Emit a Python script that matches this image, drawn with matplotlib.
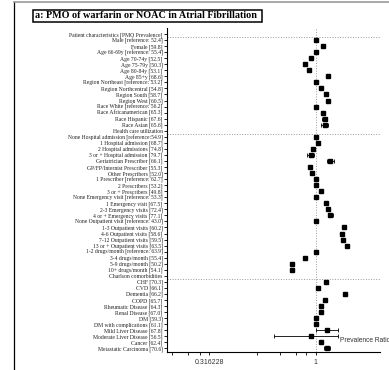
import numpy as np
import matplotlib.pyplot as plt
from matplotlib.lines import Line2D
from matplotlib.patches import Rectangle

labels = [
    "Patient characteristics [PMO Prevalence]",
    "Male [reference: 52.4]",
    "Female [59.8]",
    "Age 66-69y [reference: 55.4]",
    "Age 70-74y [52.5]",
    "Age 75-79y [50.3]",
    "Age 80-84y [53.1]",
    "Age 85+y [68.6]",
    "Region Northeast [reference: 53.2]",
    "Region Northcentral [54.8]",
    "Region South [58.7]",
    "Region West [60.5]",
    "Race White [reference: 56.2]",
    "Race Africanamerican [65.3]",
    "Race Hispanic [67.6]",
    "Race Asian [65.6]",
    "Health care utilization",
    "None Hospital admission [reference:54.9]",
    "1 Hospital admission [68.7]",
    "2 Hospital admissions [74.8]",
    "3 or + Hospital admission [79.7]",
    "Geriatrician Prescriber [66.1]",
    "GP/FP/Internist Prescriber [55.3]",
    "Other Prescribers [52.0]",
    "1 Prescriber [reference: 62.7]",
    "2 Prescribers [53.2]",
    "3 or + Prescribers [49.8]",
    "None Emergency visit [reference: 53.3]",
    "1 Emergency visit [67.5]",
    "2-3 Emergency visits [72.4]",
    "4 or + Emergency visits [77.1]",
    "None Outpatient visit [reference: 43.0]",
    "1-3 Outpatient visits [60.2]",
    "4-6 Outpatient visits [58.6]",
    "7-12 Outpatient visits [59.5]",
    "13 or + Outpatient visits [63.5]",
    "1-2 drugs/month [reference: 63.9]",
    "3-4 drugs/month [55.4]",
    "5-9 drugs/month [50.2]",
    "10+ drugs/month [54.1]",
    "Charlson comorbidities",
    "CHF [70.3]",
    "CVD [66.1]",
    "Dementia [66.2]",
    "COPD [65.7]",
    "Rheumatic Disease [64.3]",
    "Renal Disease [67.0]",
    "DM [59.3]",
    "DM with complications [61.1]",
    "Mild Liver Disease [67.8]",
    "Moderate Liver Disease [56.5]",
    "Cancer [62.4]",
    "Metastatic Carcinoma [70.6]",
]

nan = np.nan
ratio = [nan, 1.0, 1.08, 1.0, 0.947, 0.89, 0.925, 1.135, 1.0, 1.055, 1.11, 1.14,
         1.0, 1.075, 1.10, 1.10, nan, 1.0, 1.02, 0.97, 0.945, 1.17, 0.937, 0.957,
         1.0, 1.003, 1.055, 1.0, 1.11, 1.135, 1.17, 1.0, 1.35, 1.32, 1.34, 1.40,
         1.0, 0.887, 0.773, 0.776, nan, 1.12, 1.02, 1.37, 1.10, 1.055, 1.055,
         1.0, 1.0, 1.125, 0.95, 1.055, 1.125]
ci_low = [nan, 1.0, 1.07, 1.0, 0.94, 0.88, 0.915, 1.125, 1.0, 1.045, 1.10, 1.13,
          1.0, 1.06, 1.07, 1.06, nan, 1.0, 1.01, 0.96, 0.91, 1.13, 0.93, 0.95,
          1.0, 0.995, 1.045, 1.0, 1.10, 1.125, 1.14, 1.0, 1.34, 1.31, 1.33, 1.39,
          1.0, 0.88, 0.765, 0.76, nan, 1.11, 1.01, 1.36, 1.09, 1.045, 1.045,
          0.99, 0.99, 1.0, 0.634, 1.045, 1.09]
ci_high = [nan, 1.0, 1.09, 1.0, 0.955, 0.90, 0.935, 1.145, 1.0, 1.065, 1.12, 1.15,
           1.0, 1.09, 1.13, 1.14, nan, 1.0, 1.03, 0.98, 0.98, 1.21, 0.945, 0.965,
           1.0, 1.01, 1.065, 1.0, 1.12, 1.145, 1.20, 1.0, 1.36, 1.33, 1.35, 1.41,
           1.0, 0.895, 0.78, 0.79, nan, 1.13, 1.03, 1.38, 1.11, 1.065, 1.065,
           1.01, 1.01, 1.27, 1.27, 1.065, 1.16]
headers = [0, 16, 40]

W, H = 389, 370
fig = plt.figure(figsize=(W / 100, H / 100), dpi=100)

# outer frame and title box (pixel coords)
fig.add_artist(Line2D([14 / W, 14 / W], [0, 1 - 2 / H], color="black", lw=0.9))
fig.add_artist(Line2D([14 / W, 1], [1 - 2 / H, 1 - 2 / H], color="#999999", lw=1.2))
fig.add_artist(Rectangle((33 / W, 1 - 22 / H), 229 / W, 12 / H, transform=fig.transFigure,
                         fill=False, edgecolor="black", lw=1.1))
fig.text(35 / W, 1 - 16 / H, "a: PMO of warfarin or NOAC in Atrial Fibrillation",
         family="Liberation Serif", weight="bold", fontsize=7.3, va="center", ha="left")

ax = fig.add_axes([167 / W, 18 / H, 213 / W, 324 / H])
y = np.arange(len(labels))
r = np.array(ratio)
err = [r - np.array(ci_low), np.array(ci_high) - r]
ax.errorbar(r, y, xerr=err, fmt="s", color="black", ms=3, elinewidth=0.6,
            capsize=1.5, capthick=0.6)

ax.axvline(1.0, color="#999999", ls=":", lw=0.7, zorder=0)
for h in headers:
    ax.axhline(h + 0.5, color="#999999", ls=":", lw=0.7, zorder=0)

ax.set_xscale("log")
ax.set_xlim(0.2, 2.0)
ax.set_ylim(52.6, -1)
ax.set_yticks(y)
ax.set_yticklabels(labels, family="Liberation Serif", fontsize=4.1, color="#222222")
ax.set_xticks([0.316228, 1])
ax.set_xticklabels(["0.316228", "1"], family="Liberation Sans", fontsize=5, color="#333333")
ax.set_xticks([0.21, 0.25, 0.287, 0.53, 0.68, 0.81, 0.9], minor=True)
ax.xaxis.set_minor_formatter(plt.NullFormatter())
ax.tick_params(axis="y", length=2.2, width=0.6, pad=1)
ax.tick_params(axis="x", which="both", length=2.2, width=0.6, pad=3)
for s in ["top", "right"]:
    ax.spines[s].set_visible(False)
ax.spines["left"].set_linewidth(0.8)
ax.spines["bottom"].set_linewidth(0.8)

fig.text(340 / W, 1 - 341 / H, "Prevalence Ratio", family="Liberation Sans",
         fontsize=4.8, color="#333333", va="center", ha="left")

fig.savefig("out.png", dpi=100)
